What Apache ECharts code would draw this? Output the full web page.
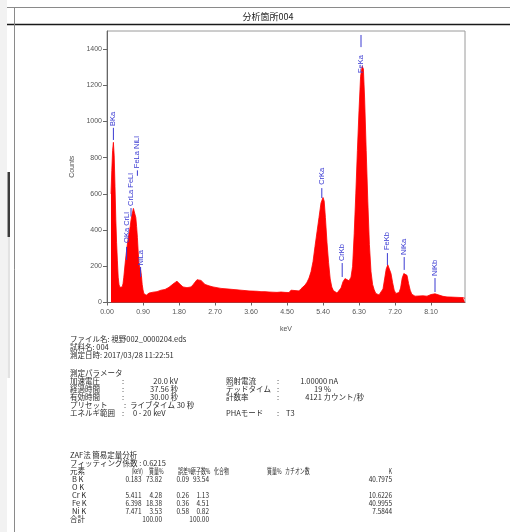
<!DOCTYPE html>
<html><head><meta charset="utf-8">
<script src="https://cdn.jsdelivr.net/npm/echarts@6/dist/echarts.min.js"></script>
<style>html,body{margin:0;padding:0;background:#fff;}#c{width:510px;height:532px;}</style>
</head><body><div id="c"></div>
<script>
// ---- spectrum (keV, counts) ----
const energies = [0.10,0.12,0.14,0.16,0.18,0.20,0.22,0.24,0.26,0.28,0.30,0.32,0.34,0.36,0.38,0.40,0.42,0.44,0.46,0.48,
0.50,0.52,0.54,0.56,0.58,0.60,0.62,0.64,0.66,0.68,0.70,0.72,0.74,0.76,0.78,0.80,0.82,0.84,0.86,0.88,0.90,0.92,0.94,0.96,0.98,
1.00,1.05,1.10,1.15,1.20,1.25,1.30,1.35,1.40,1.45,1.50,1.55,1.60,1.65,1.70,1.75,1.80,1.85,1.90,1.95,
2.00,2.05,2.10,2.15,2.20,2.25,2.30,2.35,2.40,2.45,2.50,2.55,2.60,2.65,2.70,2.75,2.80,2.85,2.90,2.95,
3.00,3.05,3.10,3.15,3.20,3.25,3.30,3.35,3.40,3.45,3.50,3.55,3.60,3.65,3.70,3.75,3.80,3.85,3.90,3.95,
4.00,4.05,4.10,4.15,4.20,4.25,4.30,4.35,4.40,4.45,4.50,4.55,4.60,4.65,4.70,4.75,4.80,4.85,4.90,4.95,
5.00,5.05,5.10,5.15,5.20,5.25,5.30,5.35,5.40,5.43,5.46,5.50,5.54,5.58,5.62,5.66,5.70,5.75,5.80,5.85,5.90,5.95,
6.00,6.05,6.10,6.14,6.18,6.22,6.26,6.30,6.34,6.38,6.41,6.44,6.48,6.52,6.56,6.60,6.64,6.68,6.72,6.76,6.80,6.85,
6.90,6.94,6.98,7.02,7.06,7.10,7.14,7.18,7.22,7.26,7.30,7.34,7.38,7.42,7.46,7.50,7.54,7.58,7.62,7.66,7.70,
7.75,7.80,7.85,7.90,7.95,8.00,8.05,8.10,8.15,8.20,8.25,8.30,8.35,8.40,8.45,8.50,8.55,8.60,8.65,8.70,8.75,8.80,8.85,8.90,8.95];
const counts = [600,730,840,885,810,640,460,330,230,140,100,84,78,80,86,104,140,185,230,270,
305,340,370,392,420,455,480,500,520,530,515,470,420,360,280,215,195,180,150,100,70,50,42,45,40,
44,52,46,57,55,60,58,68,62,72,70,84,88,102,110,118,106,100,86,90,
82,88,86,98,108,126,136,122,118,100,104,92,98,86,94,82,90,78,86,76,
84,74,82,72,80,70,78,68,76,66,74,64,72,63,71,62,70,60,68,60,
67,58,66,57,65,56,64,58,66,56,64,55,68,58,66,72,64,76,84,96,
112,135,170,225,310,390,470,550,580,560,470,330,220,130,85,66,56,52,58,80,115,132,
128,120,140,200,380,600,840,1060,1250,1305,1290,1130,840,560,320,170,100,70,50,44,42,46,
75,130,185,208,200,160,110,68,50,44,55,80,135,160,165,150,105,68,46,38,35,
30,36,31,37,29,35,38,44,40,48,42,41,32,34,27,31,25,30,24,29,23,28,22,27,23];

const xTicks = [0, 0.9, 1.8, 2.7, 3.6, 4.5, 5.4, 6.3, 7.2, 8.1];
const yTicks = [0, 200, 400, 600, 800, 1000, 1200, 1400];

// ---- peak markers: name, energy, marker line (low/high counts), text base counts ----
const peakNames    = ['BKa','OKa CrLl','CrLa FeLl','FeLa NiLl','NiLa','CrKa','CrKb','FeKa','FeKb','NiKa','NiKb'];
const peakEnergies = [0.16, 0.49, 0.60, 0.76, 0.84, 5.37, 5.88, 6.35, 7.01, 7.43, 8.20];
const peakLineLow  = [898, 235, 475, 700, 141, 577, 141, 1411, 207, 180, 58];
const peakLineHigh = [965, 307, 522, 730, 196, 632, 218, 1478, 273, 251, 135];
const peakTextBase = [975, 329, 533, 742, 205, 650, 229, 1268, 290, 262, 146];

// ---- report texts ----
const fileInfo = ['ファイル名: 視野002_0000204.eds', '試料名: 004', '測定日時: 2017/03/28 11:22:51'];
const paramLabels1 = ['加速電圧','経過時間','有効時間','プリセット','エネルギ範囲'];
const paramValues1 = ['20.0 kV','37.56 秒','30.00 秒','ライブタイム 30 秒','0 - 20 keV'];
const paramLabels2 = ['照射電流','デッドタイム','計数率','','PHAモード'];
const paramValues2 = ['1.00000 nA','19 %','4121 カウント/秒','','T3'];
const tableHeader = ['元素','(keV)','質量%','誤差%','原子数%','化合物','質量%','カチオン数','K'];
const elements = ['B K','O K','Cr K','Fe K','Ni K','合計'];
const lineKeV  = ['0.183','','5.411','6.398','7.471',''];
const massPct  = ['73.82','','4.28','18.38','3.53','100.00'];
const errPct   = ['0.09','','0.26','0.36','0.58',''];
const atomPct  = ['93.54','','1.13','4.51','0.82','100.00'];
const kRatio   = ['40.7975','','10.6226','40.9955','7.5844',''];

const JP = '"Noto Sans CJK JP"';
const FT = '7.5px ' + JP;
const TXT = '#2a2a2a';
function t(x, y, text, align, sx) {
  return { type: 'text', x: x, y: y, silent: true, scaleX: sx || 1,
    style: { text: text, x: 0, y: 0, font: FT, fill: TXT,
      align: align || 'left', textAlign: align || 'left', verticalAlign: 'middle', textVerticalAlign: 'middle' } };
}
const g = [];
// page decorations
g.push({ type: 'rect', shape: { x: 0, y: 0, width: 7, height: 532 }, style: { fill: '#f2f2f2' }, silent: true });
g.push({ type: 'rect', shape: { x: 7.5, y: 172, width: 2.5, height: 65 }, style: { fill: '#3a3a3a' }, silent: true });
g.push({ type: 'rect', shape: { x: 7.5, y: 237, width: 2.5, height: 141 }, style: { fill: '#e2e2e2' }, silent: true });
g.push({ type: 'line', shape: { x1: 7, y1: 7.5, x2: 510, y2: 7.5 }, style: { stroke: '#8a8a8a', lineWidth: 1 }, silent: true });
g.push({ type: 'line', shape: { x1: 7, y1: 24.5, x2: 510, y2: 24.5 }, style: { stroke: '#1a1a1a', lineWidth: 1.5 }, silent: true });
g.push({ type: 'line', shape: { x1: 14.5, y1: 7.5, x2: 14.5, y2: 532 }, style: { stroke: '#8a8a8a', lineWidth: 1 }, silent: true });
g.push({ type: 'text', x: 268, y: 16.5, silent: true, style: { text: '分析箇所004', x: 0, y: 0, font: '9px ' + JP, fill: '#222', align: 'center', textAlign: 'center', verticalAlign: 'middle', textVerticalAlign: 'middle' } });

const LX = 70;
const NS = 0.86; // narrow digits
fileInfo.forEach((s, i) => g.push(t(LX, 339 + i * 8, s)));
g.push(t(LX, 373, '測定パラメータ'));
paramLabels1.forEach((s, i) => {
  const y = 381 + i * 8;
  g.push(t(LX, y, s));
  g.push(t(i === 3 ? 124 : 122, y, ':'));
  if (i < 3) g.push(t(178, y, paramValues1[i], 'right'));
  else g.push(t(i === 3 ? 130 : 133, y, paramValues1[i]));
  if (paramLabels2[i]) {
    g.push(t(226, y, paramLabels2[i]));
    g.push(t(277, y, ':'));
    if (i === 4) g.push(t(286, y, paramValues2[i]));
    else g.push(t([338, 331, 364][i], y, paramValues2[i], 'right'));
  }
});
g.push(t(LX, 455, 'ZAF法 簡易定量分析'));
g.push(t(LX, 463, 'フィッティング係数 : 0.6215'));
const hy = 471;
const hx = [LX, 143, 149, 178, 191, 214, 267, 285, 392];
const ha = ['left','right','left','left','left','left','left','left','right'];
tableHeader.forEach((s, i) => g.push(t(hx[i], hy, s, ha[i], i === 0 ? 1 : 0.66)));
elements.forEach((el, i) => {
  const y = 479 + i * 8;
  g.push(t(i === 5 ? LX : LX + 2, y, el));
  if (lineKeV[i]) g.push(t(141.5, y, lineKeV[i], 'right', NS));
  if (massPct[i]) g.push(t(162, y, massPct[i], 'right', NS));
  if (errPct[i]) g.push(t(189, y, errPct[i], 'right', NS));
  if (atomPct[i]) g.push(t(209, y, atomPct[i], 'right', NS));
  if (kRatio[i]) g.push(t(392, y, kRatio[i], 'right', NS));
});

const chart = echarts.init(document.getElementById('c'), null, { renderer: 'canvas' });
const AX = '#555';
const AXF = 'Liberation Sans';
chart.setOption({
  animation: false,
  backgroundColor: '#ffffff',
  grid: { left: 107, right: 45, top: 31, bottom: 229.5, show: true, borderColor: '#9a9a9a', borderWidth: 1, backgroundColor: 'transparent' },
  xAxis: {
    type: 'value', min: 0, max: 8.95,
    axisLine: { show: true, lineStyle: { color: '#666', width: 1 } },
    axisTick: { show: true, length: 3, customValues: xTicks, lineStyle: { color: '#666' } },
    axisLabel: { customValues: xTicks, formatter: v => v.toFixed(2), fontSize: 7, color: AX, fontFamily: AXF, margin: 6 },
    splitLine: { show: false },
    name: 'keV', nameLocation: 'middle', nameGap: 23, nameTextStyle: { fontSize: 7, color: AX, fontFamily: AXF }
  },
  yAxis: {
    type: 'value', min: 0, max: 1500,
    axisLine: { show: true, lineStyle: { color: '#666', width: 1 } },
    axisTick: { show: true, length: 4, customValues: yTicks, lineStyle: { color: '#666' } },
    axisLabel: { customValues: yTicks, formatter: v => String(v), fontSize: 7, color: AX, fontFamily: AXF, margin: 5 },
    splitLine: { show: false },
    name: 'Counts', nameLocation: 'middle', nameGap: 30, nameRotate: 90, nameTextStyle: { fontSize: 7, color: AX, fontFamily: AXF }
  },
  graphic: { elements: g },
  series: [
    {
      type: 'line', data: energies.map((e, i) => [e, counts[i]]),
      showSymbol: false, silent: true, z: 2,
      lineStyle: { color: '#ff0000', width: 0.8 },
      areaStyle: { color: '#ff0000', opacity: 1 }
    },
    {
      type: 'custom', clip: false, silent: true, z: 5,
      data: peakNames.map((n, i) => [peakEnergies[i], peakLineLow[i], peakLineHigh[i], peakTextBase[i]]),
      encode: { x: 0, y: 1 },
      renderItem: function (params, api) {
        const e = api.value(0);
        const a = api.coord([e, api.value(1)]);
        const b = api.coord([e, api.value(2)]);
        const p = api.coord([e, api.value(3)]);
        const col = '#3a3ad2';
        return { type: 'group', children: [
          { type: 'line', shape: { x1: a[0], y1: a[1], x2: b[0], y2: b[1] }, style: { stroke: col, lineWidth: 1 } },
          { type: 'text', x: p[0], y: p[1], rotation: Math.PI / 2,
            style: { text: peakNames[params.dataIndex], x: 0, y: 0, fill: col, font: '7.5px "Liberation Sans"',
              align: 'left', textAlign: 'left', verticalAlign: 'middle', textVerticalAlign: 'middle' } }
        ] };
      }
    }
  ]
});
</script></body></html>
